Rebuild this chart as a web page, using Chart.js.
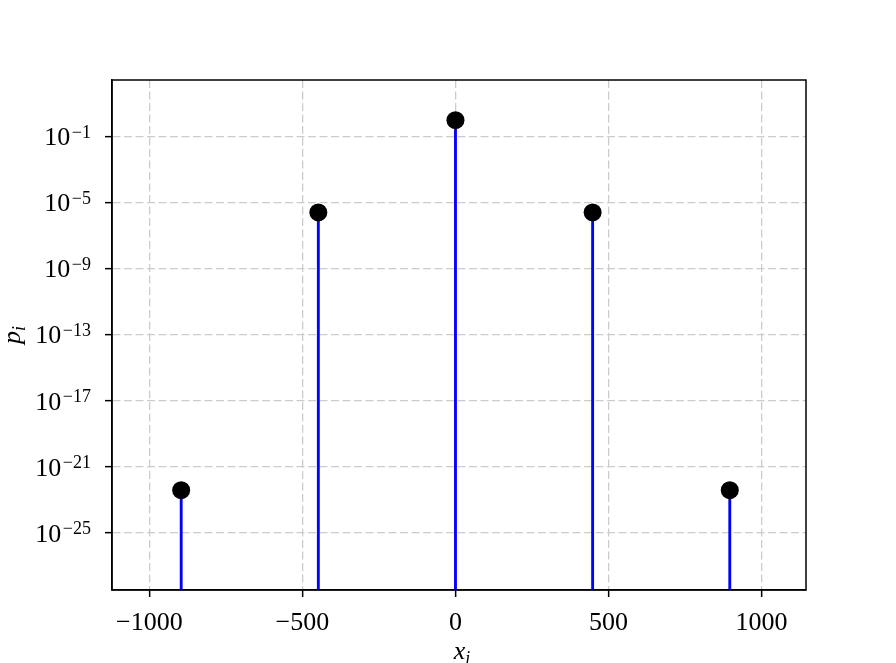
<!DOCTYPE html>
<html>
<head>
<meta charset="utf-8">
<script src="https://cdn.jsdelivr.net/npm/chart.js@4"></script>
<style>
html,body{margin:0;padding:0;background:#fff;}
#wrap{width:896px;height:663px;}
</style>
</head>
<body>
<div id="wrap"><canvas id="c" width="896" height="663"></canvas></div>
<script>
const xs = [-896, -448, 0, 448, 896];
const ps = [3.9e-23, 2.5e-6, 0.95, 2.5e-6, 3.9e-23];
const xTickValues = [-1000, -500, 0, 500, 1000];
const yTickExps = [-25, -21, -17, -13, -9, -5, -1];
const xLimits = [-1122, 1145];
const yLimitExps = [-28.45, 2.41];
const xTitle = ['x', 'i'];
const yTitle = ['p', 'i'];

const yMin = Math.pow(10, yLimitExps[0]);
const yMax = Math.pow(10, yLimitExps[1]);
const FONT = "'Liberation Serif', 'DejaVu Serif', serif";
const MINUS = '\u2212';

function fmtNum(v){ return v < 0 ? MINUS + Math.abs(v) : String(v); }

const textPlugin = {
  id: 'texts',
  afterDraw(chart){
    const {ctx, chartArea:a} = chart;
    const ys = chart.scales.y;
    ctx.save();
    // frame
    ctx.strokeStyle = '#000';
    ctx.lineWidth = 1.5;
    ctx.strokeRect(a.left, a.top, a.right - a.left, a.bottom - a.top);
    // y tick labels 10^e
    ctx.fillStyle = '#000';
    ctx.textBaseline = 'alphabetic';
    ctx.textAlign = 'left';
    const rightEdge = a.left - 21;
    yTickExps.forEach(e => {
      const py = ys.getPixelForValue(Math.pow(10, e));
      const expStr = fmtNum(e);
      ctx.font = "18px " + FONT;
      const ew = ctx.measureText(expStr).width;
      ctx.font = "26px " + FONT;
      const tw = ctx.measureText('10').width;
      const xe = rightEdge - ew;
      const xt = xe - tw - 1.5;
      const base = py + 8.8;
      ctx.font = "26px " + FONT;
      ctx.fillText('10', xt, base);
      ctx.font = "18px " + FONT;
      ctx.fillText(expStr, xe, base - 7.5);
    });
    // x axis title
    const cx = (a.left + a.right) / 2 + 3;
    ctx.font = "italic 26px " + FONT;
    const xw = ctx.measureText(xTitle[0]).width;
    ctx.font = "italic 18px " + FONT;
    const iw = ctx.measureText(xTitle[1]).width;
    const x0 = cx - (xw + iw) / 2;
    ctx.font = "italic 26px " + FONT;
    ctx.fillText(xTitle[0], x0, 659);
    ctx.font = "italic 18px " + FONT;
    ctx.fillText(xTitle[1], x0 + xw, 664);
    // y axis title (rotated)
    ctx.translate(20, (a.top + a.bottom) / 2);
    ctx.rotate(-Math.PI / 2);
    ctx.font = "italic 26px " + FONT;
    const pw = ctx.measureText(yTitle[0]).width;
    ctx.font = "italic 18px " + FONT;
    const piw = ctx.measureText(yTitle[1]).width;
    const p0 = -(pw + piw) / 2;
    ctx.font = "italic 26px " + FONT;
    ctx.fillText(yTitle[0], p0, 0);
    ctx.font = "italic 18px " + FONT;
    ctx.fillText(yTitle[1], p0 + pw, 5);
    ctx.restore();
  }
};

const gridCommon = {
  color: '#cccccc',
  lineWidth: 1.3,
  offset: false,
  tickColor: '#000',
  tickBorderDash: [],
  tickLength: 7,
  tickWidth: 1.5
};

new Chart(document.getElementById('c'), {
  type: 'bar',
  data: {
    datasets: [
      {
        type: 'scatter',
        data: xs.map((x, i) => ({x: x, y: ps[i]})),
        pointRadius: 9,
        pointHoverRadius: 9,
        pointBackgroundColor: '#000',
        pointBorderColor: '#000',
        pointBorderWidth: 0,
        order: 0
      },
      {
        type: 'bar',
        data: xs.map((x, i) => ({x: x, y: [yMin, ps[i]]})),
        backgroundColor: '#0000ff',
        borderWidth: 0,
        barThickness: 2.2,
        order: 1
      }
    ]
  },
  plugins: [textPlugin],
  options: {
    responsive: false,
    animation: false,
    layout: {padding: {left: 0, right: 90, top: 80, bottom: 0}},
    plugins: {legend: {display: false}, tooltip: {enabled: false}},
    scales: {
      x: {
        type: 'linear',
        min: xLimits[0],
        max: xLimits[1],
        offset: false,
        afterBuildTicks(scale){ scale.ticks = xTickValues.map(v => ({value: v})); },
        afterFit(scale){ scale.height = 73; },
        ticks: {
          autoSkip: false,
          maxRotation: 0,
          padding: 11,
          color: '#000',
          font: {family: FONT, size: 26},
          callback: v => fmtNum(v)
        },
        grid: gridCommon,
        border: {display: true, color: '#000', width: 1.5, dash: [8, 3.5]}
      },
      y: {
        type: 'logarithmic',
        min: yMin,
        max: yMax,
        afterBuildTicks(scale){ scale.ticks = yTickExps.map(e => ({value: Math.pow(10, e)})); },
        afterFit(scale){ scale.width = 112; },
        ticks: {display: false},
        grid: gridCommon,
        border: {display: true, color: '#000', width: 1.5, dash: [8, 3.5]}
      }
    }
  }
});
</script>
</body>
</html>
